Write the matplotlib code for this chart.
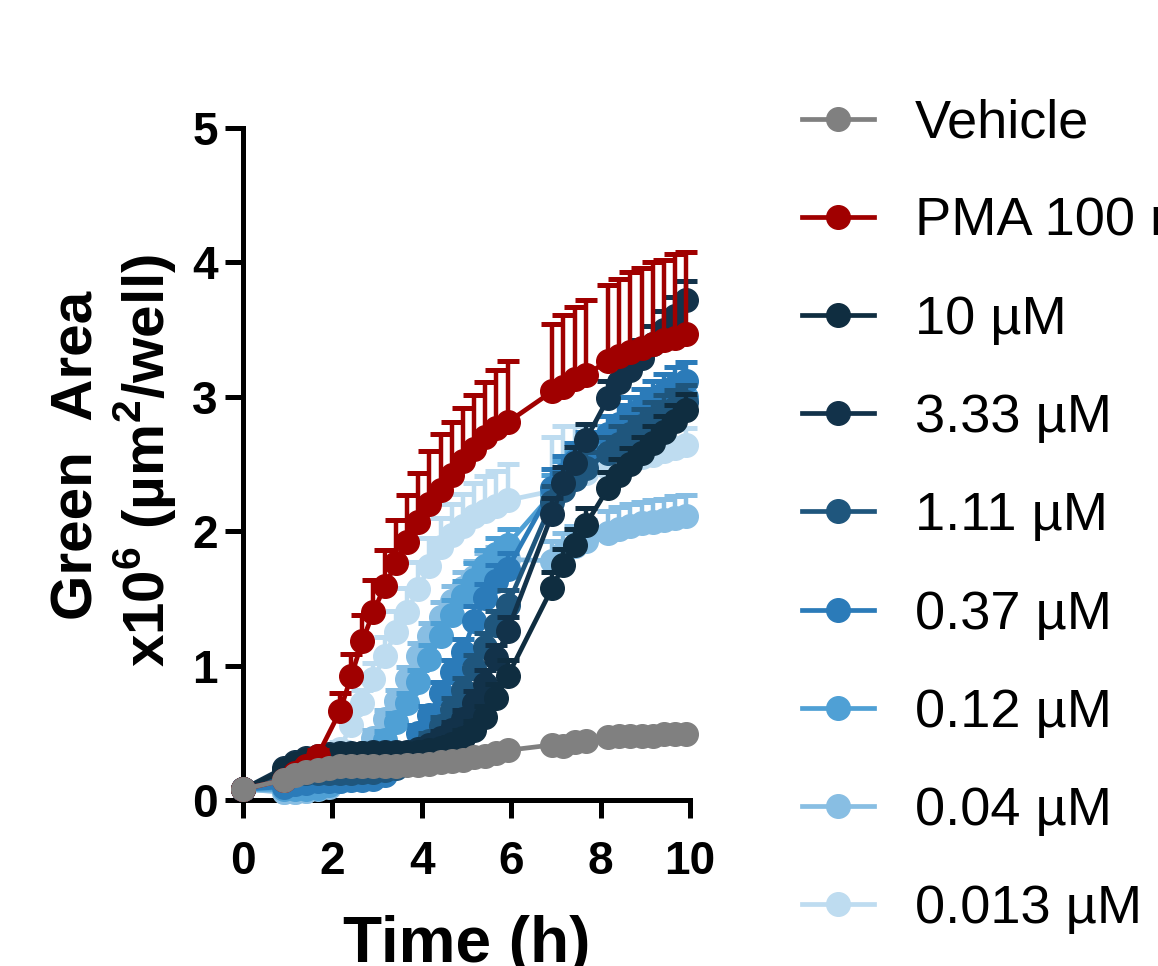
import numpy as np
import matplotlib
matplotlib.use("Agg")
import matplotlib.pyplot as plt
from matplotlib.lines import Line2D

plt.rcParams["font.family"] = ["Liberation Sans", "DejaVu Sans"]
plt.rcParams["mathtext.fontset"] = "custom"
plt.rcParams["mathtext.rm"] = "Liberation Sans"
plt.rcParams["mathtext.bf"] = "Liberation Sans:bold"

nan = np.nan

# time points (h) - scans every 15 min with two gaps
time_h = [0.0, 0.92, 1.17, 1.42, 1.67, 1.92, 2.17, 2.42, 2.67, 2.92, 3.17, 3.42,
          3.67, 3.92, 4.17, 4.42, 4.67, 4.92, 5.17, 5.42, 5.67, 5.92,
          6.92, 7.17, 7.42, 7.67, 8.17, 8.42, 8.67, 8.92, 9.17, 9.42, 9.67, 9.92]

labels = ["Vehicle", "PMA 100 nM", "10 µM", "3.33 µM", "1.11 µM",
          "0.37 µM", "0.12 µM", "0.04 µM", "0.013 µM"]
colors = ["#808080", "#A00000", "#0F2D40", "#12324A", "#1F567D",
          "#2B7BB9", "#4FA0D5", "#88BEE3", "#BEDCF0"]

vehicle = [0.08, 0.15, 0.19, 0.21, 0.22, 0.24, 0.25, 0.25, 0.25, 0.25, 0.25, 0.25,
           0.26, 0.26, 0.27, 0.28, 0.29, 0.30, 0.32, 0.33, 0.35, 0.37,
           0.41, 0.40, 0.43, 0.44, 0.47, 0.48, 0.48, 0.48, 0.48, 0.49, 0.49, 0.49]
vehicle_err = [0.01] * 34

pma = [0.08, 0.15, 0.20, 0.25, 0.33, nan, 0.66, 0.92, 1.18, 1.40, 1.59, 1.76,
       1.92, 2.07, 2.20, 2.31, 2.42, 2.52, 2.61, 2.70, 2.77, 2.81,
       3.04, 3.07, 3.13, 3.16, 3.27, 3.30, 3.33, 3.36, 3.39, 3.42, 3.44, 3.47]
pma_err = [0.01, 0.02, 0.02, 0.03, 0.04, nan, 0.14, 0.17, 0.20, 0.24, 0.27, 0.32,
           0.35, 0.36, 0.40, 0.41, 0.39, 0.40, 0.40, 0.41, 0.43, 0.46,
           0.50, 0.54, 0.54, 0.56, 0.56, 0.58, 0.60, 0.60, 0.61, 0.60, 0.62, 0.61]

c10 = [0.08, 0.22, 0.27, 0.30, 0.32, 0.33, 0.34, 0.34, 0.35, 0.35, 0.35, 0.35,
       0.35, 0.36, 0.37, 0.39, 0.42, 0.46, 0.52, 0.62, 0.76, 0.92,
       1.58, 1.75, 1.90, 2.05, 2.32, 2.42, 2.50, 2.58, 2.66, 2.74, 2.82, 2.90]
c10_err = [0.01, 0.02, 0.02, 0.02, 0.02, 0.02, 0.02, 0.02, 0.02, 0.02, 0.02, 0.02,
           0.02, 0.03, 0.03, 0.04, 0.05, 0.06, 0.07, 0.08, 0.10, 0.12,
           0.12, 0.12, 0.12, 0.12, 0.12, 0.12, 0.12, 0.12, 0.12, 0.12, 0.12, 0.12]

c3 = [0.08, 0.24, 0.28, 0.31, 0.33, 0.34, 0.35, 0.35, 0.35, 0.36, 0.36, 0.36,
      0.36, 0.38, 0.41, 0.46, 0.52, 0.60, 0.72, 0.86, 1.06, 1.26,
      2.13, 2.36, 2.51, 2.68, 2.99, 3.11, 3.20, 3.29, 3.39, 3.50, 3.60, 3.72]
c3_err = [0.01, 0.02, 0.02, 0.02, 0.02, 0.02, 0.02, 0.02, 0.02, 0.02, 0.02, 0.02,
          0.02, 0.03, 0.04, 0.05, 0.06, 0.07, 0.09, 0.11, 0.09, 0.10,
          0.12, 0.12, 0.12, 0.12, 0.13, 0.13, 0.13, 0.13, 0.14, 0.14, 0.14, 0.14]

c1 = [0.08, 0.18, 0.20, 0.20, 0.20, 0.20, 0.20, 0.20, 0.21, 0.21, 0.22, 0.24,
      0.28, 0.35, 0.44, 0.55, 0.68, 0.82, 0.98, 1.14, 1.30, 1.45,
      2.22, 2.31, 2.39, 2.47, 2.58, 2.65, 2.72, 2.78, 2.83, 2.88, 2.92, 2.96]
c1_err = [0.01, 0.02, 0.02, 0.02, 0.02, 0.02, 0.02, 0.02, 0.02, 0.02, 0.02, 0.03,
          0.04, 0.05, 0.06, 0.07, 0.08, 0.09, 0.10, 0.10, 0.11, 0.11,
          0.12, 0.12, 0.12, 0.12, 0.12, 0.13, 0.13, 0.13, 0.13, 0.13, 0.13, 0.13]

c037 = [0.08, 0.10, 0.12, 0.13, 0.14, 0.14, 0.14, 0.15, 0.15, 0.16, 0.19, 0.25,
        0.35, 0.50, 0.63, 0.80, 0.95, 1.10, 1.33, 1.50, 1.63, 1.72,
        2.32, 2.42, 2.52, 2.60, 2.72, 2.80, 2.86, 2.92, 2.98, 3.03, 3.08, 3.12]
c037_err = [0.01, 0.02, 0.02, 0.02, 0.02, 0.02, 0.02, 0.02, 0.02, 0.02, 0.03, 0.04,
            0.05, 0.06, 0.07, 0.08, 0.09, 0.10, 0.11, 0.11, 0.12, 0.12,
            0.14, 0.14, 0.14, 0.14, 0.14, 0.14, 0.14, 0.14, 0.14, 0.14, 0.14, 0.14]

c012 = [0.08, 0.08, 0.08, 0.08, 0.09, 0.11, 0.15, 0.20, 0.27, 0.35, 0.45, 0.58,
        0.72, 0.88, 1.05, 1.22, 1.38, 1.52, 1.64, 1.74, 1.83, 1.90,
        2.28, 2.38, 2.46, 2.54, 2.64, 2.72, 2.78, 2.84, 2.89, 2.93, 2.97, 3.00]
c012_err = [0.01, 0.02, 0.02, 0.02, 0.02, 0.02, 0.02, 0.03, 0.04, 0.05, 0.06, 0.07,
            0.08, 0.09, 0.10, 0.10, 0.11, 0.11, 0.12, 0.12, 0.12, 0.12,
            0.14, 0.14, 0.14, 0.14, 0.14, 0.14, 0.14, 0.14, 0.14, 0.14, 0.14, 0.14]

c004 = [0.08, 0.06, 0.06, 0.07, 0.08, 0.10, 0.14, 0.22, 0.33, 0.46, 0.60, 0.74,
        0.90, 1.07, 1.22, 1.36, 1.48, 1.58, 1.66, 1.72, 1.76, 1.79,
        1.78, 1.84, 1.89, 1.93, 1.99, 2.02, 2.04, 2.06, 2.07, 2.08, 2.10, 2.11]
c004_err = [0.01, 0.02, 0.02, 0.02, 0.02, 0.02, 0.03, 0.04, 0.05, 0.06, 0.07, 0.08,
            0.09, 0.10, 0.10, 0.11, 0.11, 0.12, 0.12, 0.12, 0.12, 0.12,
            0.15, 0.15, 0.15, 0.15, 0.16, 0.16, 0.16, 0.16, 0.16, 0.16, 0.16, 0.16]

c0013 = [0.08, 0.06, 0.06, 0.07, 0.09, 0.18, 0.38, 0.56, 0.72, 0.90, 1.07, 1.25,
         1.40, 1.57, 1.74, 1.88, 1.97, 2.04, 2.11, 2.15, 2.19, 2.23,
         2.30, 2.36, 2.40, 2.43, 2.47, 2.50, 2.53, 2.55, 2.57, 2.60, 2.62, 2.64]
c0013_err = [0.01, 0.02, 0.02, 0.02, 0.02, 0.03, 0.05, 0.08, 0.10, 0.12, 0.14, 0.16,
             0.18, 0.20, 0.21, 0.22, 0.23, 0.24, 0.25, 0.26, 0.26, 0.27,
             0.40, 0.42, 0.38, 0.36, 0.25, 0.22, 0.20, 0.18, 0.17, 0.15, 0.14, 0.13]

series = [vehicle, pma, c10, c3, c1, c037, c012, c004, c0013]
errors = [vehicle_err, pma_err, c10_err, c3_err, c1_err, c037_err, c012_err,
          c004_err, c0013_err]

fig = plt.figure(figsize=(11.58, 9.66), dpi=100)
ax = fig.add_axes([0.2098, 0.1718, 0.3860, 0.6957])

t = np.array(time_h)
n = len(series)
# last legend entry is drawn first (Prism style)
for i in reversed(range(n)):
    y = np.array(series[i], dtype=float)
    e = np.array(errors[i], dtype=float)
    ok = ~np.isnan(y)
    ax.errorbar(t[ok], y[ok], yerr=[np.zeros(ok.sum()), e[ok]],
                fmt="-o", color=colors[i], ms=17, lw=3.4, elinewidth=3.2,
                capsize=8, capthick=3.6, clip_on=False, zorder=3 + (n - i))

ax.set_xlim(0, 10)
ax.set_ylim(0, 5)
ax.set_xticks([0, 2, 4, 6, 8, 10])
ax.set_yticks([0, 1, 2, 3, 4, 5])
for s in ["top", "right"]:
    ax.spines[s].set_visible(False)
for s in ["left", "bottom"]:
    ax.spines[s].set_linewidth(3.6)
ax.tick_params(axis="both", length=13, width=3.6, labelsize=33)
ax.tick_params(axis="x", pad=16)
ax.tick_params(axis="y", pad=5)
for lab in ax.get_xticklabels() + ax.get_yticklabels():
    lab.set_fontweight("bold")

ax.set_xlabel("Time (h)", fontsize=46, fontweight="bold", labelpad=22)

fig.text(0.067, 0.529, "Green  Area", rotation=90, ha="center", va="center",
         fontsize=42, fontweight="bold")
fig.text(0.126, 0.523, r"x10$^{\mathbf{6}}$ (µm$^{\mathbf{2}}$/well)", rotation=90,
         ha="center", va="center", fontsize=42, fontweight="bold")

handles = [Line2D([], [], color=c, marker="o", ms=17, lw=3.4) for c in colors]
fig.legend(handles, labels, loc="upper left", bbox_to_anchor=(802 / 1158, 0.898),
           bbox_transform=fig.transFigure, frameon=False, fontsize=39,
           handlelength=1.33, handletextpad=0.76, labelspacing=0.89,
           borderpad=0, borderaxespad=0)

fig.savefig("out.png", dpi=100)
